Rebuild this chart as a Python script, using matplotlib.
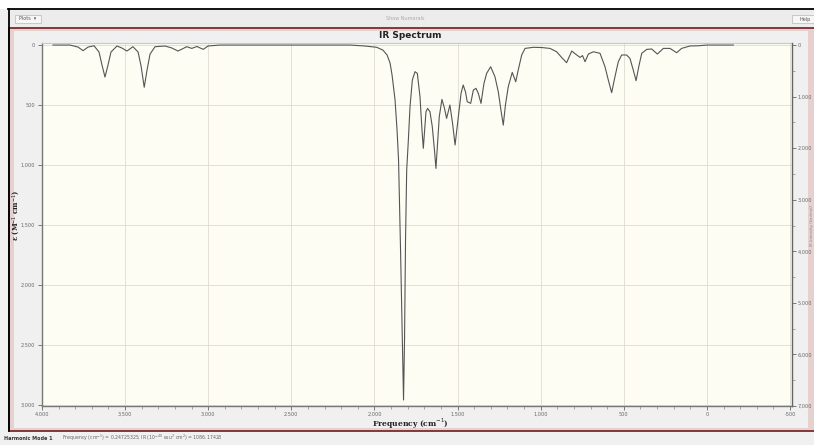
import matplotlib.pyplot as plt
from matplotlib.patches import Rectangle
from matplotlib.ticker import MultipleLocator, FuncFormatter

# spectrum: frequency (cm-1) and epsilon (M-1 cm-1)
freq = [3934, 3832, 3783, 3753, 3723, 3687, 3657, 3639, 3621, 3603, 3585, 3549,
        3519, 3489, 3453, 3422, 3404, 3385, 3368, 3350, 3320, 3260, 3218, 3182,
        3129, 3099, 3068, 3030, 3001, 2929, 2448, 2147, 2057, 1986, 1949, 1924,
        1906, 1894, 1876, 1864, 1855, 1843, 1831, 1825, 1819, 1813, 1806, 1796,
        1786, 1772, 1756, 1742, 1726, 1714, 1706, 1696, 1690, 1680, 1666, 1652,
        1639, 1630, 1621, 1610, 1594, 1579, 1566, 1546, 1530, 1515, 1506, 1496,
        1479, 1466, 1452, 1442, 1421, 1405, 1389, 1375, 1359, 1341, 1325, 1301,
        1275, 1255, 1239, 1225, 1212, 1195, 1171, 1150, 1135, 1114, 1094, 1044,
        992, 944, 904, 874, 844, 813, 783, 763, 748, 733, 713, 683, 643, 613,
        593, 573, 553, 533, 513, 483, 463, 443, 426, 410, 392, 362, 332, 298,
        262, 222, 182, 152, 102, 52, 1, -159]
eps = [0, 0, 17, 47, 17, 6, 58, 167, 267, 167, 58, 8,
       25, 50, 14, 58, 175, 352, 208, 75, 14, 8, 25, 50,
       14, 28, 12, 36, 8, 0, 0, 0, 8, 19, 42, 83,
       150, 250, 458, 708, 958, 1708, 2542, 2958, 2458, 1625, 1042, 792,
       514, 292, 222, 236, 431, 708, 861, 667, 556, 528, 556, 681,
       875, 1028, 833, 597, 453, 525, 611, 500, 653, 833, 725, 597,
       403, 333, 392, 472, 486, 375, 361, 403, 486, 319, 236, 181,
       264, 389, 542, 667, 500, 347, 228, 306, 208, 83, 28, 19,
       21, 28, 56, 103, 147, 50, 83, 103, 88, 139, 75, 56, 69, 181,
       292, 397, 264, 139, 83, 83, 111, 208, 297, 181, 69, 36, 33, 75,
       28, 28, 64, 28, 8, 6, 0, 0]

title = 'IR Spectrum'
x_label = 'Frequency (cm$^{-1}$)'
y_label = 'ε (M$^{-1}$ cm$^{-1}$)'
y2_label = 'IR Intensity (km/mol)'
status_bold = 'Harmonic Mode 1'
status_text = 'Frequency (cm$^{-1}$) = 0.24725325, IR (10$^{-40}$ esu$^2$ cm$^2$) = 1086.17428'

W, H = 814, 445
fig = plt.figure(figsize=(W / 100, H / 100), dpi=100, facecolor='#f0f0f0')


def box(x0, y0, x1, y1, **kw):
    # rectangle given in pixels from the top-left corner, kept behind the axes
    r = Rectangle((x0 / W, 1 - y1 / H), (x1 - x0) / W, (y1 - y0) / H,
                  transform=fig.transFigure, zorder=-10, **kw)
    fig.patches.append(r)


# window chrome
box(0, 0, W, 8.5, facecolor='white', edgecolor='none')
box(8.5, 8.5, W + 2, 27, facecolor='#ececec', edgecolor='none')
fig.lines.append(plt.Line2D([8 / W, 1], [1 - 8.5 / H] * 2, transform=fig.transFigure,
                            color='black', lw=1.3))
fig.lines.append(plt.Line2D([8.5 / W] * 2, [1 - 8.5 / H, 1 - 431 / H],
                            transform=fig.transFigure, color='black', lw=1.3))
box(15, 15, 41, 23, facecolor='#f6f6f6', edgecolor='#b8b8b8', lw=0.5)
fig.text(19 / W, 1 - 19 / H, 'Plots  ▾', fontsize=3.5, color='#555', va='center')
fig.text(405 / W, 1 - 19 / H, 'Show Numerals', fontsize=3.5, color='#aaa',
         va='center', ha='center')
box(792, 15, W + 2, 23, facecolor='#f6f6f6', edgecolor='#b8b8b8', lw=0.5)
fig.text(800 / W, 1 - 19 / H, 'Help', fontsize=3.5, color='#555', va='center')

# red frame around the plot panel
box(9, 28, W + 3, 431, facecolor='#e6d0d0', edgecolor='#7a2a2a', lw=1.3)
box(14, 31, 808, 428, facecolor='#f0f0f0', edgecolor='none')

# plot area
ax_l, ax_r, ax_t, ax_b = 41.5, 791.5, 43, 406
ax = fig.add_axes([ax_l / W, 1 - ax_b / H, (ax_r - ax_l) / W, (ax_b - ax_t) / H])
ax.set_facecolor('#fdfdf3')
ax.plot(freq, eps, color='#555555', lw=0.8)
ax.set_xlim(4003, -509)
ax.set_ylim(3008, -17)

fmt = FuncFormatter(lambda v, p: f'{v:,.0f}')
ax.xaxis.set_major_locator(MultipleLocator(500))
ax.xaxis.set_minor_locator(MultipleLocator(100))
ax.yaxis.set_major_locator(MultipleLocator(500))
ax.xaxis.set_major_formatter(fmt)
ax.yaxis.set_major_formatter(fmt)
ax.grid(True, which='major', color='#dedcd0', lw=0.6)
ax.tick_params(axis='both', which='major', labelsize=3.6, labelcolor='#666',
               color='#666', length=3, width=0.6, pad=1.5)
ax.tick_params(axis='x', which='minor', color='#888', length=1.8, width=0.5)
for s in ['left', 'bottom']:
    ax.spines[s].set_color('#777')
    ax.spines[s].set_linewidth(1.0)
ax.spines['top'].set_color('#c8c8c8')
ax.spines['top'].set_linewidth(0.8)
ax.spines['right'].set_visible(False)

ax2 = ax.twinx()
ax2.set_ylim(7000, -40)
ax2.yaxis.set_major_locator(MultipleLocator(1000))
ax2.yaxis.set_minor_locator(MultipleLocator(500))
ax2.yaxis.set_major_formatter(fmt)
ax2.tick_params(axis='y', which='major', labelsize=3.6, labelcolor='#666',
                color='#666', length=3, width=0.6, pad=1.5)
ax2.tick_params(axis='y', which='minor', color='#888', length=1.8, width=0.5)
ax2.spines['right'].set_color('#666')
ax2.spines['right'].set_linewidth(1.0)
for s in ['left', 'top', 'bottom']:
    ax2.spines[s].set_visible(False)

# titles and labels
fig.text(410 / W, 1 - 36 / H, title, fontsize=6.5, fontweight='bold',
         family='DejaVu Sans', ha='center', va='center', color='#222')
fig.text(410 / W, 1 - 424 / H, x_label, fontsize=5.5, fontweight='bold',
         family='DejaVu Serif', ha='center', va='center', color='#222')
fig.text(16 / W, 1 - 215 / H, y_label, fontsize=5, fontweight='bold',
         family='DejaVu Serif', ha='center', va='center', rotation=90, color='#222')
fig.text(811.5 / W, 1 - 226 / H, y2_label, fontsize=2.8, ha='center', va='center',
         rotation=90, color='#888')

# status bar
fig.text(4 / W, 1 - 438 / H, status_bold, fontsize=3.5, fontweight='bold',
         va='center', color='#333')
fig.text(62 / W, 1 - 438 / H, status_text, fontsize=3.3, va='center', color='#666')

fig.savefig('out.png', dpi=100, facecolor=fig.get_facecolor())
